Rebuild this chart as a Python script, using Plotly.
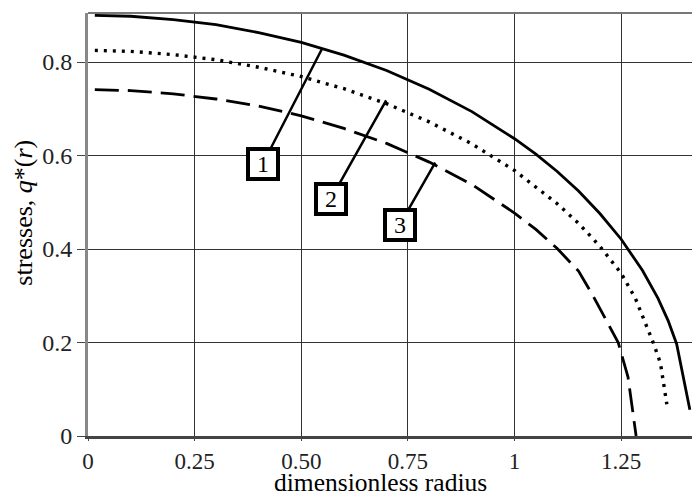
import plotly.graph_objects as go

# Curve 1 (solid)
r1 = [0.016, 0.1, 0.2, 0.3, 0.4, 0.5, 0.6, 0.7, 0.8, 0.9, 1.0, 1.05, 1.1, 1.15, 1.2, 1.25, 1.3, 1.336, 1.36, 1.38, 1.411]
q1 = [0.900, 0.898, 0.891, 0.880, 0.863, 0.842, 0.815, 0.782, 0.742, 0.694, 0.636, 0.603, 0.566, 0.524, 0.476, 0.421, 0.354, 0.295, 0.247, 0.197, 0.056]

# Curve 2 (dotted)
r2 = [0.016, 0.1, 0.2, 0.3, 0.4, 0.5, 0.6, 0.7, 0.8, 0.85, 0.9, 1.0, 1.1, 1.15, 1.2, 1.25, 1.283, 1.325, 1.342, 1.357]
q2 = [0.825, 0.823, 0.816, 0.805, 0.789, 0.769, 0.743, 0.711, 0.672, 0.649, 0.625, 0.568, 0.497, 0.455, 0.406, 0.348, 0.295, 0.200, 0.156, 0.068]

# Curve 3 (dashed)
r3 = [0.016, 0.1, 0.2, 0.3, 0.4, 0.5, 0.6, 0.7, 0.8, 0.9, 1.0, 1.05, 1.1, 1.15, 1.184, 1.243, 1.266, 1.270, 1.285]
q3 = [0.741, 0.739, 0.732, 0.721, 0.706, 0.685, 0.658, 0.626, 0.586, 0.538, 0.477, 0.442, 0.401, 0.353, 0.300, 0.200, 0.126, 0.098, 0.000]

# Labels: box centre (ax, ay) and leader tip (tx, ty)
labels = ["1", "2", "3"]
box_x = [0.410, 0.569, 0.731]
box_y = [0.583, 0.507, 0.452]
tip_x = [0.549, 0.699, 0.814]
tip_y = [0.829, 0.718, 0.585]

x_ticks = [0, 0.25, 0.5, 0.75, 1, 1.25]
x_ticktext = ["0", "0.25", "0.50", "0.75", "1", "1.25"]
y_ticks = [0, 0.2, 0.4, 0.6, 0.8]
y_ticktext = ["0", "0.2", "0.4", "0.6", "0.8"]

FONT = "Liberation Serif, Times New Roman, serif"

fig = go.Figure()
fig.add_trace(go.Scatter(x=r1, y=q1, mode="lines", line=dict(color="black", width=2.8), hoverinfo="skip"))
fig.add_trace(go.Scatter(x=r2, y=q2, mode="lines", line=dict(color="black", width=3.4, dash="3px,6px"), hoverinfo="skip"))
fig.add_trace(go.Scatter(x=r3, y=q3, mode="lines", line=dict(color="black", width=2.8, dash="24px,9px"), hoverinfo="skip"))

for t, bx, by, tx, ty in zip(labels, box_x, box_y, tip_x, tip_y):
    fig.add_annotation(x=tx, y=ty, ax=bx, ay=by, xref="x", yref="y", axref="x", ayref="y",
                       text=t, showarrow=True, arrowhead=0, arrowwidth=2.5, arrowcolor="black",
                       standoff=0, startstandoff=0,
                       font=dict(family=FONT, size=24, color="black"),
                       bgcolor="white", bordercolor="black", borderwidth=4, borderpad=1,
                       width=24, height=24)

fig.add_annotation(x=0.485, y=-0.1488, xref="paper", yref="paper", text="dimensionless radius",
                   showarrow=False, xanchor="center", yanchor="bottom",
                   font=dict(family=FONT, size=25.5, color="black"))
fig.add_annotation(x=-0.106, y=0.528, xref="paper", yref="paper",
                   text="stresses, <i>q</i>*(<i>r</i>)", textangle=-90,
                   showarrow=False, xanchor="center", yanchor="middle",
                   font=dict(family=FONT, size=26, color="black"))

fig.add_shape(type="line", xref="paper", yref="paper", x0=0, x1=1, y0=1, y1=1,
              line=dict(color="#777", width=2))

fig.update_xaxes(range=[0, 1.416], tickvals=x_ticks, ticktext=x_ticktext,
                 showgrid=True, gridcolor="#333", gridwidth=1.2, zeroline=False,
                 showline=True, linecolor="#444", linewidth=3,
                 ticks="outside", ticklen=2, tickcolor="#444",
                 tickfont=dict(family=FONT, size=23, color="#222"))
fig.update_yaxes(range=[0, 0.905], tickvals=y_ticks, ticktext=y_ticktext,
                 showgrid=True, gridcolor="#333", gridwidth=1.2, zeroline=False,
                 showline=True, linecolor="#888", linewidth=3,
                 ticks="outside", ticklen=8, tickcolor="#444",
                 tickfont=dict(family=FONT, size=24, color="#222"))

fig.update_layout(width=692, height=499, margin=dict(l=88, r=0, t=13, b=63),
                  plot_bgcolor="white", paper_bgcolor="white", showlegend=False)

fig.write_html("out.html")
